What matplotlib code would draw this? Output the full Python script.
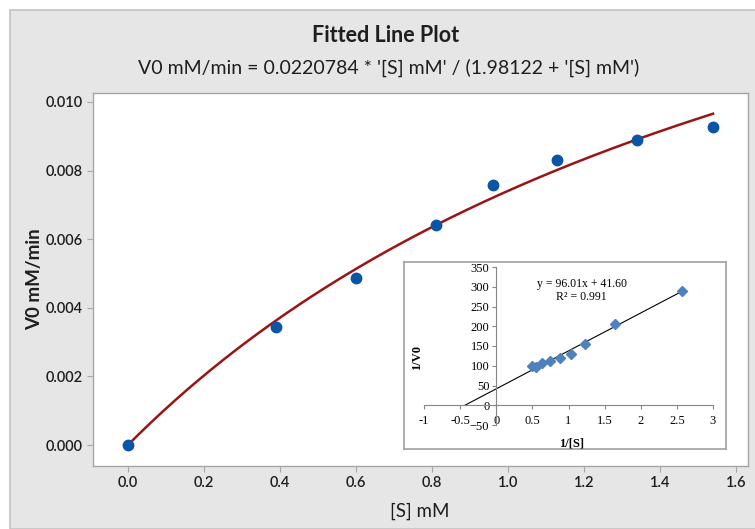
import numpy as np
import matplotlib.pyplot as plt
from matplotlib.patches import Rectangle

# main plot data
s_mM = [0.0, 0.39, 0.60, 0.81, 0.96, 1.13, 1.34, 1.54]
v0 = [0.0, 0.00343, 0.00487, 0.00642, 0.00757, 0.00832, 0.00890, 0.00928]

# fitted parameters from the subtitle
vmax = 0.0220784
km = 1.98122

xticks_main = [0.0, 0.2, 0.4, 0.6, 0.8, 1.0, 1.2, 1.4, 1.6]
yticks_main = [0.000, 0.002, 0.004, 0.006, 0.008, 0.010]

# inset: Lineweaver-Burk data
inv_s = [0.49, 0.55, 0.64, 0.74, 0.88, 1.04, 1.23, 1.65, 2.57]
inv_v = [100, 97, 107, 112, 119, 130, 155, 205, 290]
slope = 96.01
intercept = 41.60

xticks_in = [-1, -0.5, 0, 0.5, 1, 1.5, 2, 2.5, 3]
yticks_in = [-50, 0, 50, 100, 150, 200, 250, 300, 350]

W, H = 755, 529
fig = plt.figure(figsize=(W / 100, H / 100), dpi=100, facecolor="white")

def fx(px):
    return px / W

def fy(py):
    return 1 - py / H

# grey minitab background
fig.patches.append(Rectangle((fx(10), 0), 1.0, fy(10), transform=fig.transFigure,
                             facecolor="#e6e6e6", edgecolor="#c4c4c4", lw=1.2, zorder=-10))

main_font = "Lato"
txt_col = "#1e1e1e"

ax = fig.add_axes([fx(92.5), fy(466), fx(748) - fx(92.5), fy(93) - fy(466)])
ax.set_facecolor("white")
ax.set_xlim(-0.093, 1.632)
ax.set_ylim(-0.00061, 0.01026)

xs = np.linspace(0, max(s_mM), 200)
ax.plot(xs, vmax * xs / (km + xs), color="#9b1414", lw=1.8, zorder=2)
ax.plot(s_mM, v0, "o", color="#0a55a5", ms=7.5, zorder=3)

ax.set_xticks(xticks_main)
ax.set_xticklabels([f"{t:.1f}" for t in xticks_main])
ax.set_yticks(yticks_main)
ax.set_yticklabels([f"{t:.3f}" for t in yticks_main])
for sp in ax.spines.values():
    sp.set_color("#a6a6a6")
    sp.set_linewidth(1.0)
ax.tick_params(direction="out", length=4, color="#a6a6a6", labelcolor=txt_col, pad=3)
for lab in ax.get_xticklabels() + ax.get_yticklabels():
    lab.set_fontfamily(main_font)
    lab.set_fontsize(10.5)
    lab.set_fontweight("semibold")

ax.set_xlabel("[S] mM", fontfamily=main_font, fontsize=13.5, color=txt_col, labelpad=9)
ax.set_ylabel("V0 mM/min", fontfamily=main_font, fontsize=13.5, fontweight="bold",
              color=txt_col, labelpad=2)

fig.text(fx(386), fy(35), "Fitted Line Plot", ha="center", va="center",
         fontfamily=main_font, fontsize=15.5, fontweight="bold", color=txt_col)
fig.text(fx(389), fy(68), "V0 mM/min = 0.0220784 * '[S] mM' / (1.98122 + '[S] mM')",
         ha="center", va="center", fontfamily=main_font, fontsize=14, color=txt_col)

# inset frame
frame = fig.add_axes([fx(404), fy(449), fx(726) - fx(404), fy(262) - fy(449)])
frame.set_facecolor("white")
frame.set_xticks([])
frame.set_yticks([])
for sp in frame.spines.values():
    sp.set_color("#a0a0a0")
    sp.set_linewidth(1.2)

serif = "Liberation Serif"
ax_in = fig.add_axes([fx(424), fy(425), fx(713) - fx(424), fy(267) - fy(425)])
ax_in.patch.set_alpha(0)
ax_in.set_xlim(-1, 3)
ax_in.set_ylim(-50, 350)
ax_in.spines["left"].set_position(("data", 0))
ax_in.spines["bottom"].set_position(("data", 0))
ax_in.spines["top"].set_visible(False)
ax_in.spines["right"].set_visible(False)
for sp in ("left", "bottom"):
    ax_in.spines[sp].set_color("#868686")
    ax_in.spines[sp].set_linewidth(0.8)
ax_in.set_xticks(xticks_in)
ax_in.set_xticklabels([f"{t:g}" for t in xticks_in])
ax_in.set_yticks(yticks_in)
ax_in.tick_params(direction="out", length=3, width=0.8, color="#868686",
                  labelsize=9, labelcolor="black", pad=2)
ax_in.tick_params(axis="x", pad=4)
for lab in ax_in.get_xticklabels() + ax_in.get_yticklabels():
    lab.set_fontfamily(serif)

x0 = -intercept / slope
xl = np.array([x0, max(inv_s)])
ax_in.plot(xl, slope * xl + intercept, color="black", lw=0.8, zorder=2)
ax_in.plot(inv_s, inv_v, "D", color="#4f81bd", ms=4.8, zorder=3)

ax_in.text(1.18, 307, "y = 96.01x + 41.60", ha="center", va="center",
           fontfamily=serif, fontsize=8.5)
ax_in.text(1.18, 274, "R\u00b2 = 0.991", ha="center", va="center",
           fontfamily=serif, fontsize=8.5)

fig.text(fx(417), fy(357), "1/V0", rotation=90, ha="center", va="center",
         fontfamily=serif, fontsize=9, fontweight="bold")
fig.text(fx(572), fy(443), "1/[S]", ha="center", va="center",
         fontfamily=serif, fontsize=9, fontweight="bold")

fig.savefig("out.png", dpi=100, facecolor=fig.get_facecolor())
